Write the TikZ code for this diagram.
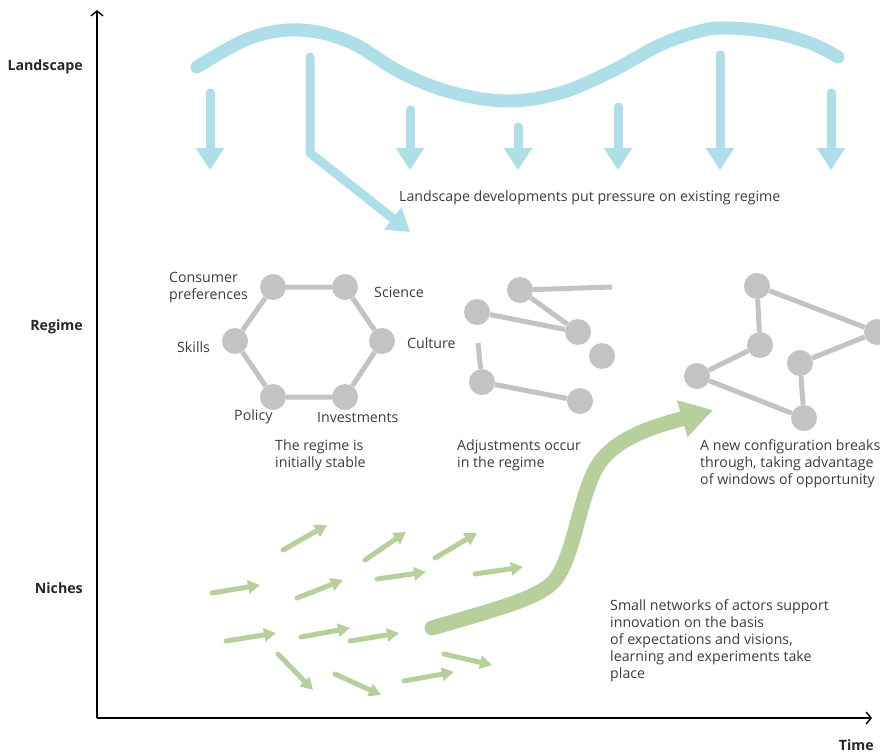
\documentclass[tikz,border=0pt]{standalone}
\usepackage{fontspec}
\setmainfont{Open Sans}
\usetikzlibrary{arrows.meta}

\definecolor{landblue}{HTML}{AEDEE7}
\definecolor{nichegreen}{HTML}{B7CF9B}
\definecolor{actorgray}{HTML}{C3C3C3}
\definecolor{inkgray}{HTML}{3C3C3C}
\def\LANDCOLOR{landblue}
\def\NICHECOLOR{nichegreen}
\def\REGIMECOLOR{actorgray}

\tikzset{
	actor/.style={circle,fill=\REGIMECOLOR,minimum size=26pt,inner sep=0pt},
	tie/.style={draw=\REGIMECOLOR,line width=5pt},
	note/.style={text=inkgray,font=\fontsize{14.2}{17}\selectfont,align=left,anchor=west,inner sep=0pt},
	level/.style={text=black!85,font=\fontsize{14.2}{17}\selectfont\bfseries,anchor=east,inner sep=0pt},
	pressure/.style={\LANDCOLOR,line width=9pt,line cap=round,line join=round,-{Triangle[width=27pt,length=22pt]}},
	push/.style={\NICHECOLOR,line width=5pt,line cap=round,-{Triangle[width=13pt,length=12pt]}}
}

\begin{document}
\begin{tikzpicture}[x=1pt,y=-1pt]

	\useasboundingbox (0,0) rectangle (880,753);

	% axes
	\draw[line width=1.4pt,-{Straight Barb[length=5pt,width=12pt]}] (97,718) -- (97,10);
	\draw[line width=1.4pt,-{Straight Barb[length=5pt,width=12pt]}] (97,718) -- (872,718);
	\node[level] (landscape) at (83,67) {Landscape};
	\node[level] (regime) at (83,327) {Regime};
	\node[level] (niches) at (83,588) {Niches};
	\node[level,anchor=east] (time) at (874,745) {Time};

	% landscape
	\draw[\LANDCOLOR,line width=13pt,line cap=round] plot[smooth,tension=0.6] coordinates
		{(197,67) (250,38) (300,30) (350,42) (400,72) (450,92) (507,101) (560,93) (610,72) (660,45) (700,31) (727,28) (770,32) (810,43) (838,57)};
	\draw[pressure] (210,93) -- (210,170);
	\draw[pressure] (310,57) -- (310,153) -- (410,232);
	\draw[pressure] (410,110) -- (410,170);
	\draw[pressure] (518,127) -- (518,170);
	\draw[pressure] (618,107) -- (618,170);
	\draw[pressure] (720,55) -- (720,170);
	\draw[pressure] (831,93) -- (831,170);
	\node[note] (pressuretext) at (399,198) {Landscape developments put pressure on existing regime};

	% regime: stable
	\node[actor] (h1) at (273,287) {};
	\node[actor] (h2) at (345,287) {};
	\node[actor] (h3) at (382,341) {};
	\node[actor] (h4) at (345,397) {};
	\node[actor] (h5) at (273,397) {};
	\node[actor] (h6) at (235,341) {};
	\draw[tie] (h1) -- (h2) -- (h3) -- (h4) -- (h5) -- (h6) -- (h1);
	\node[note] (consumer) at (169,288) {Consumer\\preferences};
	\node[note] (science) at (374,292) {Science};
	\node[note] (culture) at (407,343) {Culture};
	\node[note] (skills) at (177,347) {Skills};
	\node[note] (policy) at (234,417) {Policy};
	\node[note] (investments) at (317,417) {Investments};
	\node[note] (stable) at (275,455) {The regime is\\initially stable};

	% regime: adjustments
	\node[actor] (m1) at (520,290) {};
	\node[actor] (m2) at (477,312) {};
	\node[actor] (m3) at (578,332) {};
	\node[actor] (m4) at (602,356) {};
	\node[actor] (m5) at (482,382) {};
	\node[actor] (m6) at (580,401) {};
	\coordinate (m1end) at (612,287);
	\coordinate (m5end) at (478,343);
	\draw[tie] (m1) -- (m1end);
	\draw[tie] (m1) -- (m3);
	\draw[tie] (m2) -- (m3);
	\draw[tie] (m5) -- (m5end);
	\draw[tie] (m5) -- (m6);
	\node[note] (adjust) at (457,455) {Adjustments occur\\in the regime};

	% regime: new configuration
	\node[actor] (n1) at (757,286) {};
	\node[actor] (n2) at (760,345) {};
	\node[actor] (n3) at (697,376) {};
	\node[actor] (n4) at (877,332) {};
	\node[actor] (n5) at (800,363) {};
	\node[actor] (n6) at (804,418) {};
	\draw[tie] (n1) -- (n2) -- (n3) -- (n6) -- (n5) -- (n4) -- (n1);
	\node[note] (breaks) at (700,464) {A new configuration breaks\\through, taking advantage\\of windows of opportunity};

	% niches
	\draw[push] (283,550) -- (327,525);
	\draw[push] (365,560) -- (406,532);
	\draw[push] (435,558) -- (477,533);
	\draw[push] (212,593) -- (260,585);
	\draw[push] (297,598) -- (343,580);
	\draw[push] (377,579) -- (426,572);
	\draw[push] (475,574) -- (523,567);
	\draw[push] (226,641) -- (276,633);
	\draw[push] (301,637) -- (350,628);
	\draw[push] (350,641) -- (399,633);
	\draw[push] (278,654) -- (313,690);
	\draw[push] (335,674) -- (381,695);
	\draw[push] (404,681) -- (454,672);
	\draw[push] (444,654) -- (492,665);
	\draw[\NICHECOLOR,line width=15pt,line cap=round,-{Triangle[width=36pt,length=32pt]}]
		(432,628) .. controls (500,608) and (540,598) .. (555,580)
		.. controls (575,555) and (580,490) .. (600,462)
		.. controls (620,435) and (660,425) .. (713,410);
	\node[note] (smallnet) at (610,641) {Small networks of actors support\\innovation on the basis\\of expectations and visions,\\learning and experiments take\\place};

\end{tikzpicture}
\end{document}
